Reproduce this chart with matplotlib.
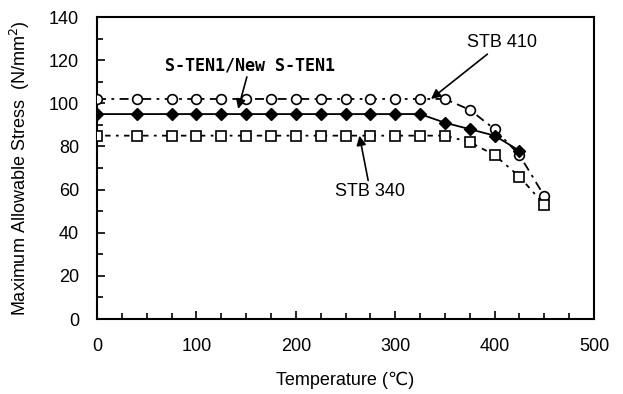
import matplotlib
matplotlib.use("Agg")
import matplotlib.pyplot as plt
from matplotlib.ticker import MultipleLocator

# Data
temp_410 = [0, 40, 75, 100, 125, 150, 175, 200, 225, 250, 275, 300, 325, 350, 375, 400, 425, 450]
stb410 = [102, 102, 102, 102, 102, 102, 102, 102, 102, 102, 102, 102, 102, 102, 97, 88, 76, 57]
temp_sten = [0, 40, 75, 100, 125, 150, 175, 200, 225, 250, 275, 300, 325, 350, 375, 400, 425]
sten1 = [95, 95, 95, 95, 95, 95, 95, 95, 95, 95, 95, 95, 95, 91, 88, 85, 78]
temp_340 = [0, 40, 75, 100, 125, 150, 175, 200, 225, 250, 275, 300, 325, 350, 375, 400, 425, 450]
stb340 = [85, 85, 85, 85, 85, 85, 85, 85, 85, 85, 85, 85, 85, 85, 82, 76, 66, 53]

x_ticks = [0, 100, 200, 300, 400, 500]
y_ticks = [0, 20, 40, 60, 80, 100, 120, 140]

plt.rcParams['font.family'] = ['Liberation Sans', 'DejaVu Sans']

fig = plt.figure(figsize=(6.23, 3.94), dpi=100)
ax = fig.add_axes([97/623, 1-319/394, (594-97)/623, (319-17)/394])

ax.plot(temp_410, stb410, color='black', lw=1.3, linestyle=(0, (5, 3, 1.5, 3)),
        marker='o', markersize=7, markerfacecolor='white', markeredgecolor='black',
        markeredgewidth=1.2, zorder=3)
ax.plot(temp_sten, sten1, color='black', lw=1.3, linestyle='-',
        marker='D', markersize=6.5, markerfacecolor='black', markeredgecolor='black', zorder=4)
ax.plot(temp_340, stb340, color='black', lw=1.3, linestyle=(0, (1.5, 3, 3, 3)),
        marker='s', markersize=7, markerfacecolor='white', markeredgecolor='black',
        markeredgewidth=1.2, zorder=3)

ax.set_xlim(0, 500)
ax.set_ylim(0, 140)
ax.set_xticks(x_ticks)
ax.set_yticks(y_ticks)
ax.xaxis.set_minor_locator(MultipleLocator(25))
ax.yaxis.set_minor_locator(MultipleLocator(10))
ax.tick_params(axis='both', which='both', direction='in', top=False, right=False,
               labelsize=13, width=1.2)
ax.tick_params(axis='both', which='major', length=6)
ax.tick_params(axis='x', which='major', pad=14)
ax.tick_params(axis='y', which='major', pad=13)
ax.tick_params(axis='both', which='minor', length=4)
for s in ax.spines.values():
    s.set_linewidth(1.5)

ax.set_xlabel('Temperature (℃)', fontsize=13, labelpad=12)
ax.set_ylabel('Maximum Allowable Stress  (N/mm$^2$)', fontsize=13, labelpad=12)

arrow = dict(arrowstyle='-|>', color='black', lw=1.2, mutation_scale=14, shrinkA=0, shrinkB=0)
ax.annotate('S-TEN1/New S-TEN1', xy=(142, 97.4), xytext=(154, 113.5),
            fontsize=12, fontweight='bold', family=['DejaVu Sans Mono'],
            ha='center', va='bottom', arrowprops=arrow)
ax.annotate('STB 410', xy=(336, 102), xytext=(407, 128),
            fontsize=13, ha='center', va='center', arrowprops=arrow)
ax.annotate('STB 340', xy=(264, 85), xytext=(275, 59),
            fontsize=13, ha='center', va='center', arrowprops=arrow)

fig.savefig('out.png', dpi=100)
